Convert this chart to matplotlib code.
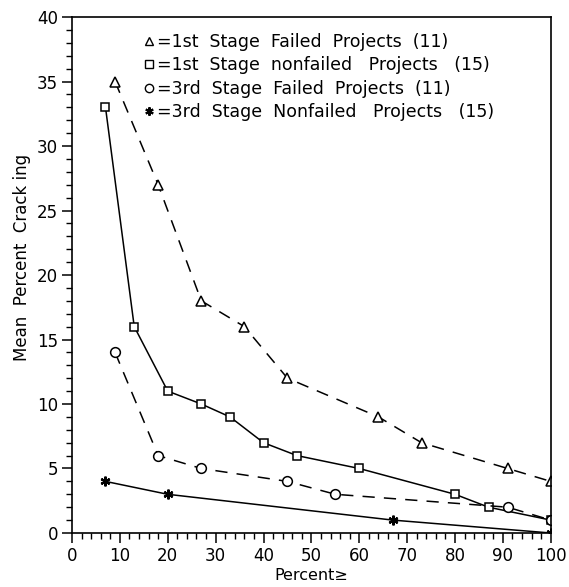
import matplotlib
matplotlib.use('Agg')
import matplotlib.pyplot as plt
from matplotlib.lines import Line2D
from matplotlib.ticker import MultipleLocator

# mean percent cracking vs. percent>= for each stage/group
tri_x = [9, 18, 27, 36, 45, 64, 73, 91, 100]
tri_y = [35, 27, 18, 16, 12, 9, 7, 5, 4]

sq_x = [7, 13, 20, 27, 33, 40, 47, 60, 80, 87, 100]
sq_y = [33, 16, 11, 10, 9, 7, 6, 5, 3, 2, 1]

circ_x = [9, 18, 27, 45, 55, 91, 100]
circ_y = [14, 6, 5, 4, 3, 2, 1]

star_x = [7, 20, 67, 100]
star_y = [4, 3, 1, 0]

labels = ['=1st  Stage  Failed  Projects  (11)',
          '=1st  Stage  nonfailed   Projects   (15)',
          '=3rd  Stage  Failed  Projects  (11)',
          '=3rd  Stage  Nonfailed   Projects   (15)']

plt.rcParams['font.family'] = 'DejaVu Sans'

fig = plt.figure(figsize=(5.69, 5.87), dpi=100)
ax = fig.add_axes([0.1265, 0.092, 0.8415, 0.879])

dash = (8, 6)
mk = dict(color='black', markerfacecolor='white', markeredgewidth=1.1, linewidth=1.1)
star = (6, 2, 0)

ax.plot(tri_x, tri_y, marker='^', markersize=6.5, dashes=dash, **mk)
ax.plot(sq_x, sq_y, marker='s', markersize=6, linestyle='-', **mk)
ax.plot(circ_x, circ_y, marker='o', markersize=7, dashes=dash, **mk)
ax.plot(star_x, star_y, marker=star, markersize=7, markeredgewidth=1.6,
        linestyle='-', color='black', linewidth=1.1)

ax.set_xlim(0, 100)
ax.set_ylim(0, 40)
ax.xaxis.set_major_locator(MultipleLocator(10))
ax.xaxis.set_minor_locator(MultipleLocator(2))
ax.yaxis.set_major_locator(MultipleLocator(5))
ax.yaxis.set_minor_locator(MultipleLocator(1))
ax.tick_params(which='major', direction='out', length=7, width=1.1, labelsize=12, pad=3)
ax.tick_params(which='minor', direction='out', length=4, width=1.0)
for s in ax.spines.values():
    s.set_linewidth(1.2)

ax.set_xlabel('Percent\u2265', fontsize=11.5, labelpad=2)
ax.set_ylabel('Mean  Percent  Crack ing', fontsize=12)
ax.yaxis.set_label_coords(-0.085, 0.535)

handles = [
    Line2D([], [], marker='^', markersize=6, color='black', markerfacecolor='white', linestyle='none'),
    Line2D([], [], marker='s', markersize=6, color='black', markerfacecolor='white', linestyle='none'),
    Line2D([], [], marker='o', markersize=6, color='black', markerfacecolor='white', linestyle='none'),
    Line2D([], [], marker=star, markersize=6, markeredgewidth=1.5, color='black', linestyle='none'),
]
ax.legend(handles, labels, loc='upper left', bbox_to_anchor=(0.135, 0.982),
          frameon=False, fontsize=12.5, handlelength=0.6, handletextpad=0.2,
          labelspacing=0.3, borderaxespad=0)

fig.savefig('out.png', dpi=100)
